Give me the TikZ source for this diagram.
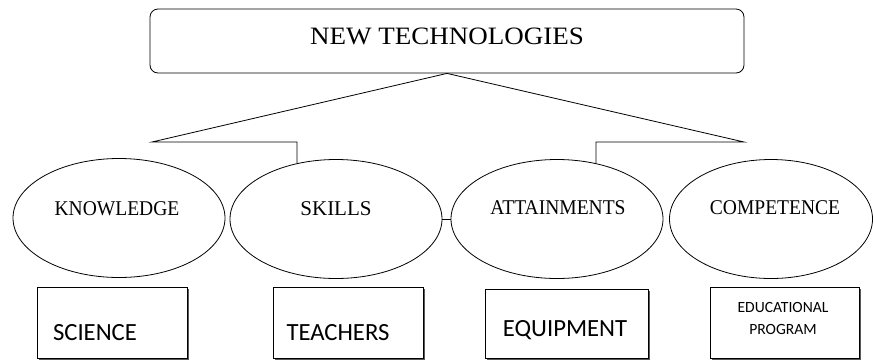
\documentclass[tikz,border=0pt]{standalone}
\usepackage{fontspec}
\setmainfont{Liberation Serif}
\newfontfamily\calfont{Carlito}
\usetikzlibrary{shapes.geometric,shadows}
\newcommand{\hsq}[1]{\scalebox{0.93}[1]{#1}}
\begin{document}
\begin{tikzpicture}[x=1pt,y=-1pt,
  ell/.style={ellipse,draw,line width=0.8pt,minimum height=119pt,inner sep=0pt},
  serif/.style={inner sep=0pt,font=\fontsize{21}{24}\selectfont},
  sbox/.style={draw,line width=0.8pt,fill=white,anchor=north west,inner sep=0pt,
    drop shadow={shadow xshift=2pt,shadow yshift=-2pt,fill=black!65,opacity=1}},
  sans/.style={inner sep=0pt,font=\calfont\fontsize{24.7}{27}\selectfont},
  conn/.style={line width=0.8pt}]
\useasboundingbox (0,0) rectangle (873,360);
% top
\node[draw,rounded corners=8pt,line width=0.8pt,minimum width=594pt,minimum height=64pt,inner sep=0pt] (top) at (447,41) {};
\node[serif,font=\fontsize{25}{28}\selectfont] (toptext) at (447,36) {\scalebox{1.08}[1]{NEW TECHNOLOGIES}};
% ellipses
\node[ell,minimum width=212pt] (k) at (119,218) {};
\node[ell,minimum width=212pt] (s) at (336,219) {};
\node[ell,minimum width=212pt] (a) at (557,219) {};
\node[ell,minimum width=203pt] (c) at (771,219) {};
\node[serif] (kt) at (117,209) {\hsq{KNOWLEDGE}};
\node[serif] (st) at (336,209) {SKILLS};
\node[serif] (at) at (558,208) {\hsq{ATTAINMENTS}};
\node[serif] (ct) at (775,208) {\hsq{COMPETENCE}};
% connectors
\coordinate (lft) at (152,142);
\coordinate (rgt) at (744,142);
\draw[conn] (top.south) -- (lft) -- (lft -| s.125) -- (s.125);
\draw[conn] (top.south) -- (rgt) -- (rgt -| a.55) -- (a.55);
\draw[conn] (s.east) -- (a.west);
% boxes
\node[sbox,minimum width=150pt,minimum height=71pt] (sci) at (37,287) {};
\node[sbox,minimum width=150pt,minimum height=71pt] (tea) at (273,287) {};
\node[sbox,minimum width=163pt,minimum height=69pt] (equ) at (485,289) {};
\node[sbox,minimum width=149pt,minimum height=71pt] (edu) at (710,287) {};
\node[sans] (scit) at (95,333) {SCIENCE};
\node[sans] (teat) at (338,333) {TEACHERS};
\node[sans] (equt) at (565,330) {EQUIPMENT};
\node[sans,font=\calfont\fontsize{15.6}{22}\selectfont,align=center] (edut) at (783,318) {EDUCATIONAL\\PROGRAM};
\end{tikzpicture}
\end{document}
